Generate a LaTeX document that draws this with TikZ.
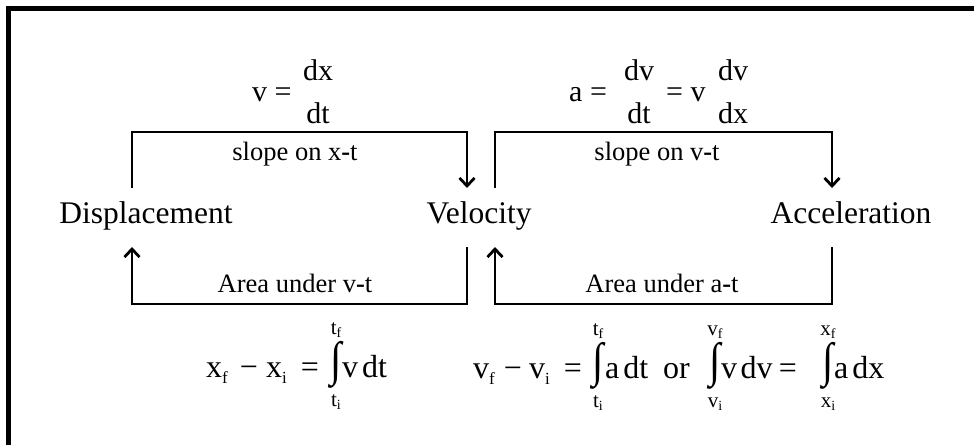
\documentclass[tikz,border=0pt]{standalone}
\usepackage{fontspec}
\setmainfont{Liberation Serif}
\usetikzlibrary{arrows.meta}
\newcommand{\sbs}[1]{\raisebox{-6pt}{\fontsize{17}{17}\selectfont #1}}
\newcommand{\lsb}[1]{\raisebox{-3pt}{\fontsize{14}{14}\selectfont #1}}
\tikzset{
  lbl/.style={inner sep=0pt, anchor=base, font=\fontsize{31.5}{31.5}\selectfont},
  small/.style={inner sep=0pt, anchor=base, font=\fontsize{26.5}{26.5}\selectfont},
  eq/.style={inner sep=0pt, anchor=base west, font=\fontsize{30}{30}\selectfont},
  eqc/.style={inner sep=0pt, anchor=base, font=\fontsize{30}{30}\selectfont},
  beq/.style={inner sep=0pt, anchor=base west, font=\fontsize{32}{32}\selectfont},
  beqc/.style={inner sep=0pt, anchor=base, font=\fontsize{32}{32}\selectfont},
  intg/.style={inner sep=0pt, anchor=center, font=\fontsize{33}{33}\selectfont},
  limf/.style={inner sep=0pt, anchor=base, font=\fontsize{21}{21}\selectfont},
  conn/.style={line width=2.8pt, line join=miter},
  tip/.style={-{Straight Barb[length=8pt,width=15pt]}},
  rtip/.style={{Straight Barb[length=8pt,width=15pt]}-}
}
% integral sign with limits: name, x, y of centre, upper, upper sub, lower, lower sub
\newcommand{\intlim}[7]{%
  \node[intg] (#1) at (#2,#3) {\scalebox{1.25}[1.45]{∫}};
  \node[limf] (#1u) at (#2,#3-31) {#4\lsb{#5}};
  \node[limf] (#1l) at (#2,#3+41) {#6\lsb{#7}};
}
\begin{document}
\begin{tikzpicture}[x=1pt,y=-1pt]
\useasboundingbox (0,0) rectangle (974,445);
\fill[white] (0,0) rectangle (974,445);
% frame
\draw[line width=4.5pt, line join=miter] (8.5,445) -- (8.5,8.5) -- (974,8.5);

% main quantities
\node[lbl] (disp) at (146,223) {Displacement};
\node[lbl] (vel) at (479,223) {Velocity};
\node[lbl] (acc) at (851,223) {Acceleration};

% top formulas
\node[eq] (veq) at (252,101) {v =};
\node[eqc] (vnum) at (318,80) {dx};
\node[eqc] (vden) at (318,123) {dt};

\node[eq] (aeq) at (569,101) {a =};
\node[eqc] (anum) at (639,80) {dv};
\node[eqc] (aden) at (639,123) {dt};
\node[eq] (aeq2) at (666,101) {= v};
\node[eqc] (anum2) at (733,80) {dv};
\node[eqc] (aden2) at (733,123) {dx};

% bracket labels
\node[small] (sxt) at (295,160) {slope on x\textbf{-}t};
\node[small] (svt) at (657,160) {slope on v\textbf{-}t};
\node[small] (avt) at (295,292) {Area under v\textbf{-}t};
\node[small] (aat) at (662,292) {Area under a\textbf{-}t};

% connector end points
\coordinate (d1) at (132,188);
\coordinate (v1) at (467,188);
\coordinate (v2) at (495,188);
\coordinate (a1) at (832,188);
\coordinate (d3) at (132,247);
\coordinate (v3) at (467,247);
\coordinate (v4) at (495,247);
\coordinate (a3) at (832,247);

\draw[conn,tip] (d1) -- ++(0,-56) -| (v1);
\draw[conn,tip] (v2) -- ++(0,-56) -| (a1);
\draw[conn,rtip] (d3) -- ++(0,57) -| (v3);
\draw[conn,rtip] (v4) -- ++(0,57) -| (a3);

% bottom formula 1
\node[beq] (xf) at (206,377) {x\sbs{f}};
\node[beqc] (xm) at (249,377) {−};
\node[beq] (xi) at (266,377) {x\sbs{i}};
\node[beqc] (xe) at (310,377) {=};
\intlim{i1}{336}{365}{t}{f}{t}{i}
\node[beq] (xv) at (342,377) {v\hspace{4pt}dt};

% bottom formula 2
\node[beq] (vf) at (473,378) {v\sbs{f}};
\node[beqc] (vm) at (513,378) {−};
\node[beq] (vi) at (529,378) {v\sbs{i}};
\node[beqc] (ve) at (573,378) {=};
\intlim{i2}{598}{366}{t}{f}{t}{i}
\node[beq] (adt) at (605,378) {a\hspace{4pt}dt};
\node[beq] (vor) at (663,378) {or};
\intlim{i3}{715}{366}{v}{f}{v}{i}
\node[beq] (vdv) at (721,378) {v\hspace{3.5pt}dv};
\node[beqc] (ve2) at (788,378) {=};
\intlim{i4}{828}{366}{x}{f}{x}{i}
\node[beq] (adx) at (834,378) {a\hspace{4pt}dx};
\end{tikzpicture}
\end{document}
